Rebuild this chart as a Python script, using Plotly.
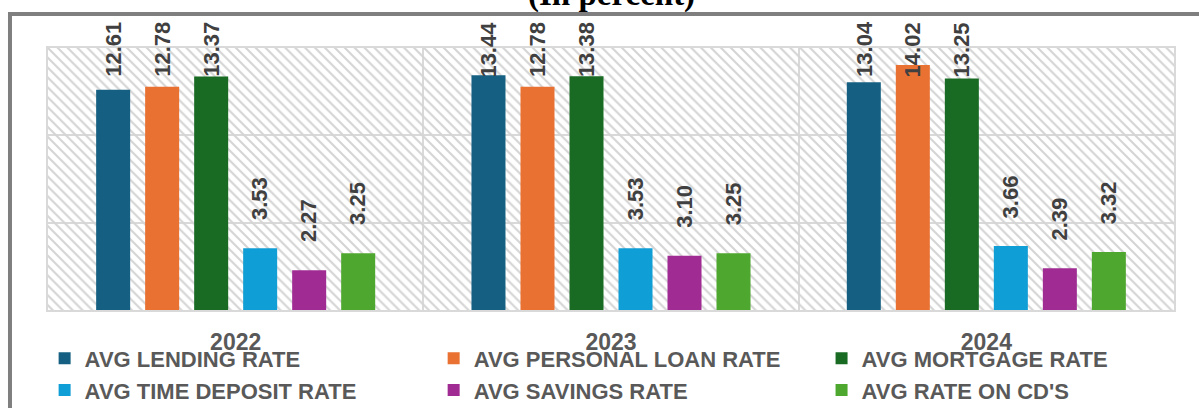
import plotly.graph_objects as go

# ---- data ----
years = ["2022", "2023", "2024"]
series_names = [
    "AVG LENDING RATE",
    "AVG PERSONAL LOAN RATE",
    "AVG MORTGAGE RATE",
    "AVG TIME DEPOSIT RATE",
    "AVG SAVINGS RATE",
    "AVG RATE ON CD'S",
]
lending = [12.61, 13.44, 13.04]
personal_loan = [12.78, 12.78, 14.02]
mortgage = [13.37, 13.38, 13.25]
time_deposit = [3.53, 3.53, 3.66]
savings = [2.27, 3.10, 2.39]
cds = [3.25, 3.25, 3.32]
values = [lending, personal_loan, mortgage, time_deposit, savings, cds]
title_text = "(In percent)"

# ---- style ----
colors = ["#156082", "#E97132", "#196B24", "#0F9ED5", "#A02B93", "#4EA72E"]
Y_MAX = 15
BARGAP = 0.2166
BARGROUPGAP = 0.306
LABEL_CAP = 11.73      # labels of tall bars are kept inside the chart
LABEL_PAD = 26         # px between bar top and its label
GRID = "#d9d9d9"
TXT = "#595959"
LBL = "#404040"
FONT = "Liberation Sans, Arial, sans-serif"

fig = go.Figure()

# hatched plot-area background (main x/y subplot, drawn beneath the bars)
n = len(years)
fig.add_trace(go.Bar(
    x=[n / 2], y=[Y_MAX], width=[n],
    xaxis="x", yaxis="y",
    marker=dict(color="rgba(0,0,0,0)", line=dict(width=0),
                pattern=dict(shape="\\", fgcolor="#d4d4d4", size=7, solidity=0.3,
                             fillmode="replace")),
    showlegend=False, hoverinfo="skip",
))

legend_of = ["legend", "legend2", "legend3", "legend", "legend2", "legend3"]
for j, (name, vals) in enumerate(zip(series_names, values)):
    fig.add_trace(go.Bar(
        x=years, y=vals, name=name,
        xaxis="x2", yaxis="y",
        marker=dict(color=colors[j], line=dict(width=0)),
        legend=legend_of[j],
        hovertemplate="%{x}: %{y:.2f}<extra>" + name + "</extra>",
    ))

# data labels
slot = (1 - BARGAP) / len(series_names)
annotations = []
for j, vals in enumerate(values):
    for i, v in enumerate(vals):
        annotations.append(dict(
            x=i + (j - (len(series_names) - 1) / 2) * slot, xref="x2",
            y=min(v, LABEL_CAP), yref="y", yshift=LABEL_PAD,
            text=f"{v:.2f}", textangle=-90, showarrow=False,
            xanchor="center", yanchor="bottom",
            font=dict(family=FONT, size=22, color=LBL, weight="bold"),
        ))

annotations.append(dict(
    x=0.5, xref="paper", y=1.204, yref="paper", text=title_text,
    showarrow=False, xanchor="center", yanchor="middle",
    font=dict(family="Liberation Serif, Times New Roman, serif", size=33,
              color="#000000", weight="bold"),
))

legend_style = dict(
    orientation="v", xanchor="left", yanchor="top", y=-0.105,
    font=dict(family=FONT, size=22, color=TXT, weight="bold"),
    bgcolor="rgba(0,0,0,0)", itemclick=False, itemdoubleclick=False,
    tracegroupgap=0,
)

fig.update_layout(
    width=1199, height=408,
    margin=dict(l=48, r=25, t=48, b=98, autoexpand=False),
    paper_bgcolor="white", plot_bgcolor="white",
    barmode="group", bargap=BARGAP, bargroupgap=BARGROUPGAP,
    xaxis=dict(range=[0, n], dtick=1, showgrid=True, gridcolor=GRID, gridwidth=1.5,
               showticklabels=False, zeroline=False, showline=True, mirror=True,
               linecolor=GRID, linewidth=1.5, ticks=""),
    xaxis2=dict(overlaying="x", anchor="y", side="bottom", type="category",
                range=[-0.5, n - 0.5], showgrid=False, zeroline=False, showline=False,
                ticks="", ticklabelstandoff=16,
                tickfont=dict(family=FONT, size=23, color=TXT, weight="bold")),
    yaxis=dict(range=[0, Y_MAX], dtick=5, showgrid=True, gridcolor=GRID, gridwidth=1.5,
               showticklabels=False, zeroline=False, showline=True, mirror=True,
               linecolor=GRID, linewidth=1.5, ticks=""),
    legend=dict(x=-0.003, **legend_style),
    legend2=dict(x=0.3425, **legend_style),
    legend3=dict(x=0.687, **legend_style),
    annotations=annotations,
    shapes=[dict(type="rect", xref="paper", yref="paper",
                 x0=-0.03375, x1=1.1, y0=-0.5, y1=1.1298,
                 line=dict(color="#7f7f7f", width=4), fillcolor="rgba(0,0,0,0)",
                 layer="above")],
    showlegend=True,
)

fig.write_html("out.html",
               config={"displayModeBar": False},
               post_script="document.body.style.margin='0';document.body.style.overflow='hidden';")
